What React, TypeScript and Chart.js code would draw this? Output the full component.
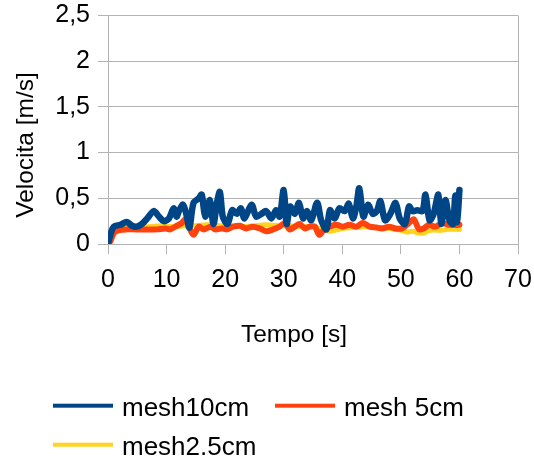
import { useEffect, useRef } from 'react';
import { Chart, registerables } from 'chart.js';

Chart.register(...registerables);

const xTickLabels = ['0', '10', '20', '30', '40', '50', '60', '70'];
const yTickLabels = ['0', '0,5', '1', '1,5', '2', '2,5'];
const seriesNames = ['mesh10cm', 'mesh 5cm', 'mesh2.5cm'];
const seriesColors = ['#004586', '#ff420e', '#ffd320'];
const xTitle = 'Tempo [s]';
const yTitle = 'Velocita [m/s]';

const mesh10Times = [0, 0.5, 1.0, 2.1, 3.2, 4.1, 4.9, 5.8, 6.7, 7.8, 8.7, 9.5, 10.4, 11.2, 11.7, 12.1, 12.8, 13.4, 13.9, 14.6, 15.5, 16.0, 16.6, 17.4, 18.0, 18.6, 19.1, 19.6, 20.4, 21.2, 22.0, 22.7, 23.3, 24.5, 25.3, 26.2, 27.0, 27.9, 28.7, 29.3, 30.0, 30.5, 31.1, 31.9, 32.6, 33.3, 34.0, 34.7, 35.7, 36.4, 37.3, 37.9, 38.7, 39.5, 40.4, 41.1, 41.8, 42.4, 42.9, 43.6, 44.4, 45.2, 45.9, 46.5, 47.3, 48.2, 49.1, 49.8, 50.7, 51.4, 52.0, 52.8, 53.7, 54.2, 54.9, 55.6, 56.4, 56.9, 57.6, 58.3, 58.9, 59.3, 59.6, 60.0];
const mesh10Values = [0, 0.12, 0.19, 0.21, 0.24, 0.20, 0.19, 0.22, 0.28, 0.36, 0.30, 0.25, 0.28, 0.39, 0.30, 0.36, 0.43, 0.32, 0.18, 0.45, 0.50, 0.54, 0.30, 0.48, 0.22, 0.45, 0.57, 0.30, 0.22, 0.37, 0.33, 0.39, 0.28, 0.43, 0.30, 0.33, 0.36, 0.28, 0.37, 0.30, 0.59, 0.22, 0.41, 0.33, 0.45, 0.28, 0.36, 0.26, 0.45, 0.26, 0.16, 0.37, 0.28, 0.39, 0.36, 0.44, 0.28, 0.41, 0.61, 0.30, 0.43, 0.33, 0.36, 0.47, 0.26, 0.33, 0.45, 0.28, 0.22, 0.41, 0.36, 0.37, 0.36, 0.54, 0.26, 0.33, 0.54, 0.22, 0.48, 0.26, 0.22, 0.53, 0.24, 0.59];

const mesh5Times = [0, 0.4, 1.0, 1.8, 3.2, 4.9, 6.7, 8.4, 9.8, 10.6, 11.5, 12.6, 13.2, 13.8, 14.6, 15.5, 16.3, 17.5, 18.3, 19.5, 20.3, 21.4, 22.5, 23.6, 24.7, 25.9, 27.0, 28.2, 29.3, 30.2, 31.0, 31.9, 32.7, 33.6, 34.4, 35.3, 36.1, 37.0, 37.8, 39.0, 40.1, 41.2, 42.4, 43.5, 44.7, 45.8, 46.8, 48.0, 49.1, 50.2, 51.4, 52.2, 53.1, 53.9, 54.8, 55.9, 57.1, 58.2, 60.0];
const mesh5Values = [0, 0.03, 0.12, 0.15, 0.16, 0.16, 0.16, 0.16, 0.17, 0.16, 0.19, 0.23, 0.27, 0.19, 0.10, 0.19, 0.16, 0.19, 0.16, 0.17, 0.16, 0.19, 0.20, 0.17, 0.19, 0.17, 0.14, 0.16, 0.19, 0.23, 0.16, 0.19, 0.22, 0.17, 0.19, 0.19, 0.10, 0.17, 0.19, 0.21, 0.19, 0.21, 0.19, 0.23, 0.19, 0.18, 0.17, 0.19, 0.17, 0.17, 0.23, 0.27, 0.16, 0.17, 0.21, 0.19, 0.23, 0.21, 0.21];

const mesh25Times = [0, 1.0, 2.0, 3.5, 5, 7, 9, 11, 13, 15, 17, 19, 21, 23, 25, 27, 29, 31, 33, 35, 37, 38, 40, 42, 44, 46, 48, 50, 51, 52, 53, 54, 55, 57, 58, 60];
const mesh25Values = [0, 0.13, 0.16, 0.18, 0.19, 0.19, 0.20, 0.19, 0.20, 0.20, 0.21, 0.20, 0.20, 0.19, 0.20, 0.21, 0.20, 0.20, 0.19, 0.19, 0.15, 0.14, 0.17, 0.18, 0.19, 0.18, 0.17, 0.15, 0.13, 0.14, 0.12, 0.12, 0.15, 0.15, 0.16, 0.16];

const seriesTimes = [mesh10Times, mesh5Times, mesh25Times];
const seriesValues = [mesh10Values, mesh5Values, mesh25Values];
const seriesWidths = [6.5, 6, 5];

const FONT = '"Liberation Sans", Arial, sans-serif';

const titlesAndLegend = {
  id: 'titlesAndLegend',
  afterDraw(chart: any) {
    const { ctx } = chart;
    ctx.save();
    ctx.fillStyle = '#000000';
    ctx.font = `24.5px ${FONT}`;
    ctx.textBaseline = 'alphabetic';
    ctx.textAlign = 'center';
    ctx.fillText(xTitle, 294, 342);
    ctx.save();
    ctx.translate(33, 145);
    ctx.rotate(-Math.PI / 2);
    ctx.fillText(yTitle, 0, 0);
    ctx.restore();

    ctx.font = `26px ${FONT}`;
    ctx.textAlign = 'left';
    chart.data.datasets.forEach((ds: any, i: number) => {
      const col = i % 2;
      const row = Math.floor(i / 2);
      const x = 53 + col * 222;
      const yLine = 405.7 + row * 39;
      ctx.fillStyle = ds.borderColor;
      ctx.fillRect(x, yLine - 2, 60, 4);
      ctx.fillStyle = '#000000';
      ctx.fillText(ds.label, x + 69, yLine + 10.5);
    });
    ctx.restore();
  },
};

export default function App() {
  const ref = useRef<HTMLCanvasElement>(null);
  useEffect(() => {
    document.body.style.margin = '0';
    Chart.defaults.font.family = FONT;
    Chart.defaults.font.size = 25;
    Chart.defaults.color = '#000000';
    const grey = '#b3b3b3';
    const chart = new Chart(ref.current!, {
      type: 'line',
      data: {
        datasets: seriesNames.map((name, i) => ({
          label: name,
          data: seriesTimes[i].map((t, k) => ({ x: t, y: seriesValues[i][k] })),
          borderColor: seriesColors[i],
          backgroundColor: seriesColors[i],
          borderWidth: seriesWidths[i],
          borderCapStyle: 'round',
          borderJoinStyle: 'round',
          pointRadius: 0,
          tension: 0.3,
          fill: false,
        })),
      },
      options: {
        animation: false,
        responsive: false,
        devicePixelRatio: 1,
        layout: { padding: { left: 0, top: 15.5, right: 16, bottom: 158 } },
        plugins: { legend: { display: false }, tooltip: { enabled: false } },
        scales: {
          x: {
            type: 'linear',
            min: 0,
            max: 70,
            ticks: {
              stepSize: 10,
              padding: 11,
              maxRotation: 0,
              callback: (_v: any, i: number) => xTickLabels[i] ?? '',
            },
            grid: {
              drawOnChartArea: true,
              color: (c: any) => (c.tick && c.tick.value === 70 ? grey : 'rgba(0,0,0,0)'),
              tickColor: grey,
              tickLength: 10,
              lineWidth: 1,
            },
            border: { display: true, color: grey, width: 1 },
            afterFit: (s: any) => {
              s.height = 60;
              s.paddingLeft = 0;
              s.paddingRight = 0;
            },
          },
          y: {
            min: 0,
            max: 2.5,
            ticks: {
              stepSize: 0.5,
              padding: 8,
              callback: (_v: any, i: number) => yTickLabels[i] ?? '',
            },
            grid: { color: grey, tickColor: grey, tickLength: 10, lineWidth: 1 },
            border: { display: true, color: grey, width: 1 },
            afterFit: (s: any) => {
              s.width = 108;
              s.paddingTop = 0;
              s.paddingBottom = 0;
            },
          },
        },
      },
      plugins: [titlesAndLegend],
    } as any);
    return () => chart.destroy();
  }, []);
  return (
    <div style={{ width: 534, height: 462 }}>
      <canvas ref={ref} width={534} height={462} style={{ display: 'block' }} />
    </div>
  );
}
